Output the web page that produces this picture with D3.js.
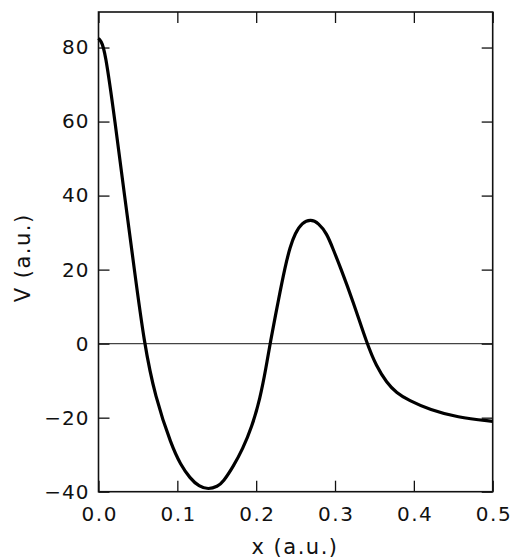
<!DOCTYPE html>
<html><head><meta charset="utf-8">
<script src="https://cdn.jsdelivr.net/npm/d3@7"></script>
<style>body{margin:0;background:#fff}svg text{font-family:"DejaVu Sans",sans-serif;fill:#111}</style>
</head><body><svg id="c" width="511" height="558"></svg>
<script>
const xValues = [0, 0.003, 0.0082, 0.021, 0.033, 0.0455, 0.058, 0.0717, 0.093, 0.104, 0.116, 0.1275, 0.1394, 0.151, 0.158, 0.171, 0.183, 0.1944, 0.205, 0.2126, 0.2176, 0.2282, 0.2367, 0.2431, 0.2494, 0.258, 0.2693, 0.279, 0.2896, 0.298, 0.3065, 0.3228, 0.3405, 0.3522, 0.3657, 0.378, 0.3932, 0.4207, 0.4546, 0.5];
const vValues = [82.5, 81.8, 79.5, 60, 40, 20, 0, -14.3, -27.8, -32.6, -36.4, -38.6, -39.4, -38.6, -37.4, -33.2, -28.4, -22.6, -14.8, -6.4, 0, 11.8, 20.8, 26.2, 29.8, 32.7, 33.6, 32.6, 29.8, 25.3, 20.8, 11.5, 0, -6.0, -10.6, -13.3, -15.3, -17.9, -19.9, -21];
const xTicks = [0, 0.1, 0.2, 0.3, 0.4, 0.5];
const yTicks = [-40, -20, 0, 20, 40, 60, 80];
const xTickLabels = ["0.0", "0.1", "0.2", "0.3", "0.4", "0.5"];
const yTickLabels = ["−40", "−20", "0", "20", "40", "60", "80"];

const svg = d3.select("#c");
const L = 98.5, R = 492.7, T = 12, B = 491.7;
const x = d3.scaleLinear().domain([0, 0.5]).range([L, R]);
const y = d3.scaleLinear().domain([-40, 89.6]).range([B, T]);
const tl = 11;

// zero line
svg.append("line").attr("x1", L).attr("x2", R).attr("y1", y(0)).attr("y2", y(0))
  .attr("stroke", "#444").attr("stroke-width", 1.1);

// axes with inward ticks
const ax = (g, axis) => { g.call(axis); g.select(".domain").remove(); g.selectAll("line").attr("stroke", "#111").attr("stroke-width", 1.3); };
svg.append("g").attr("transform", `translate(0,${B})`).call(g => ax(g, d3.axisBottom(x).tickValues(xTicks).tickSize(-tl).tickFormat((d,i)=>xTickLabels[i])))
  .selectAll("text").attr("font-size", 20).attr("dy", "1.3em").attr("letter-spacing", 1.5).attr("dx", 0.75);
svg.append("g").attr("transform", `translate(0,${T})`).call(g => ax(g, d3.axisTop(x).tickValues(xTicks).tickSize(-tl).tickFormat("")));
svg.append("g").attr("transform", `translate(${L},0)`).call(g => ax(g, d3.axisLeft(y).tickValues(yTicks).tickSize(-tl).tickPadding(9).tickFormat((d,i)=>yTickLabels[i])))
  .selectAll("text").attr("font-size", 20).attr("letter-spacing", 1);
svg.append("g").attr("transform", `translate(${R},0)`).call(g => ax(g, d3.axisRight(y).tickValues(yTicks).tickSize(-tl).tickFormat("")));
svg.selectAll("g.tick text").attr("fill", "#111");

// frame
svg.append("rect").attr("x", L).attr("y", T).attr("width", R - L).attr("height", B - T)
  .attr("fill", "none").attr("stroke", "#111").attr("stroke-width", 1.6);

// curve
const data = xValues.map((d, i) => [d, vValues[i]]);
svg.append("path").datum(data)
  .attr("d", d3.line().x(d => x(d[0])).y(d => y(d[1])).curve(d3.curveBasis))
  .attr("fill", "none").attr("stroke", "#000").attr("stroke-width", 3.2).attr("stroke-linejoin", "round");

// axis titles
svg.append("text").attr("x", 295).attr("y", 554).attr("text-anchor", "middle").attr("font-size", 21).attr("letter-spacing", 1.5).text("x (a.u.)");
svg.append("text").attr("transform", `translate(30,${(T + B) / 2 + 6}) rotate(-90)`).attr("text-anchor", "middle").attr("font-size", 21).attr("letter-spacing", 1.5).text("V (a.u.)");
</script></body></html>
